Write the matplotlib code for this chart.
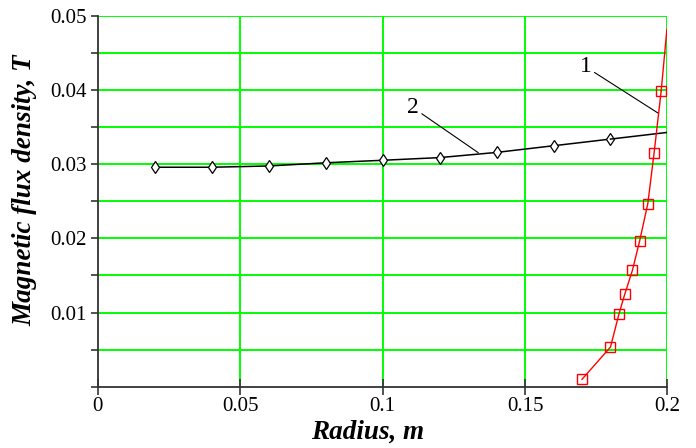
import matplotlib
matplotlib.use("Agg")
import matplotlib.pyplot as plt
from matplotlib.ticker import FixedLocator, FuncFormatter

# Curve 1 (red squares)
r1 = [0.170, 0.180, 0.183, 0.185, 0.1877, 0.1902, 0.1931, 0.1953, 0.1978]
b1 = [0.0010, 0.00535, 0.00985, 0.01246, 0.0157, 0.0196, 0.0247, 0.0315, 0.0399]
r1_end = [0.1978, 0.1998]
b1_end = [0.0399, 0.0482]

# Curve 2 (black diamonds)
r2 = [0.02, 0.04, 0.06, 0.08, 0.10, 0.12, 0.14, 0.16, 0.18]
b2 = [0.0296, 0.0296, 0.02977, 0.0302, 0.03054, 0.0309, 0.0316, 0.0325, 0.0334]
r2_end = [0.18, 0.20]
b2_end = [0.0334, 0.0343]

x_ticks = [0, 0.05, 0.1, 0.15, 0.2]
x_labels = ["0", "0.05", "0.1", "0.15", "0.2"]
y_ticks = [0.005 * i for i in range(11)]
y_label_vals = {0.01: "0.01", 0.02: "0.02", 0.03: "0.03", 0.04: "0.04", 0.05: "0.05"}

plt.rcParams['font.family'] = ['Liberation Serif', 'DejaVu Serif']

fig = plt.figure(figsize=(6.96, 4.48), dpi=100)
ax = fig.add_axes([0.1404, 0.1368, 0.959 - 0.1404, 0.9643 - 0.1368])
ax.set_xlim(0, 0.2)
ax.set_ylim(0, 0.05)

green = '#00ff00'
for xv in x_ticks[1:]:
    ax.axvline(xv, color=green, lw=1.4, zorder=1)
for yv in y_ticks[1:]:
    ax.axhline(yv, color=green, lw=1.4, zorder=1)

ax.plot(r2, b2, color='black', lw=1.1, marker='d', markersize=6.5,
        markerfacecolor='white', markeredgecolor='black', markeredgewidth=0.9, zorder=3)
ax.plot(r2_end, b2_end, color='black', lw=1.1, zorder=3)

ax.plot(r1, b1, color='red', lw=1.0, marker='s', markersize=7,
        markerfacecolor='none', markeredgecolor='red', markeredgewidth=1.0, zorder=4)
ax.plot(r1_end, b1_end, color='red', lw=1.0, zorder=4)

ax.annotate('1', xy=(0.1968, 0.03688), xytext=(0.1734, 0.04172),
            fontsize=17, ha='right', va='bottom',
            arrowprops=dict(arrowstyle='-', color='black', lw=0.8, shrinkA=0, shrinkB=0))
ax.annotate('2', xy=(0.1336, 0.03156), xytext=(0.1128, 0.0362),
            fontsize=17, ha='right', va='bottom',
            arrowprops=dict(arrowstyle='-', color='black', lw=0.8, shrinkA=0, shrinkB=0))

ax.xaxis.set_major_locator(FixedLocator(x_ticks))
ax.set_xticklabels(x_labels)
ax.yaxis.set_major_locator(FixedLocator(y_ticks))

def yfmt(v, pos):
    for k, s in y_label_vals.items():
        if abs(v - k) < 1e-9:
            return s
    return ''
ax.yaxis.set_major_formatter(FuncFormatter(yfmt))

ax.tick_params(axis='x', direction='inout', length=11, width=1.2, color='#333333',
               labelsize=15, pad=2)
ax.tick_params(axis='y', direction='out', length=5, width=1.2, color='#333333',
               labelsize=15, pad=3)

for s in ['top', 'right']:
    ax.spines[s].set_visible(False)
for s in ['left', 'bottom']:
    ax.spines[s].set_color('#333333')
    ax.spines[s].set_linewidth(1.3)
    ax.spines[s].set_zorder(5)

xl = ax.set_xlabel('Radius, m', fontsize=19.5, fontweight='bold', fontstyle='italic')
xl.set_va('center')
ax.xaxis.set_label_coords(0.474, -0.122)
yl = ax.set_ylabel('Magnetic flux density, T', fontsize=19.5, fontweight='bold',
                   fontstyle='italic')
yl.set_va('center')
ax.yaxis.set_label_coords(-0.128, 0.53)

fig.savefig('out.png', dpi=100)
